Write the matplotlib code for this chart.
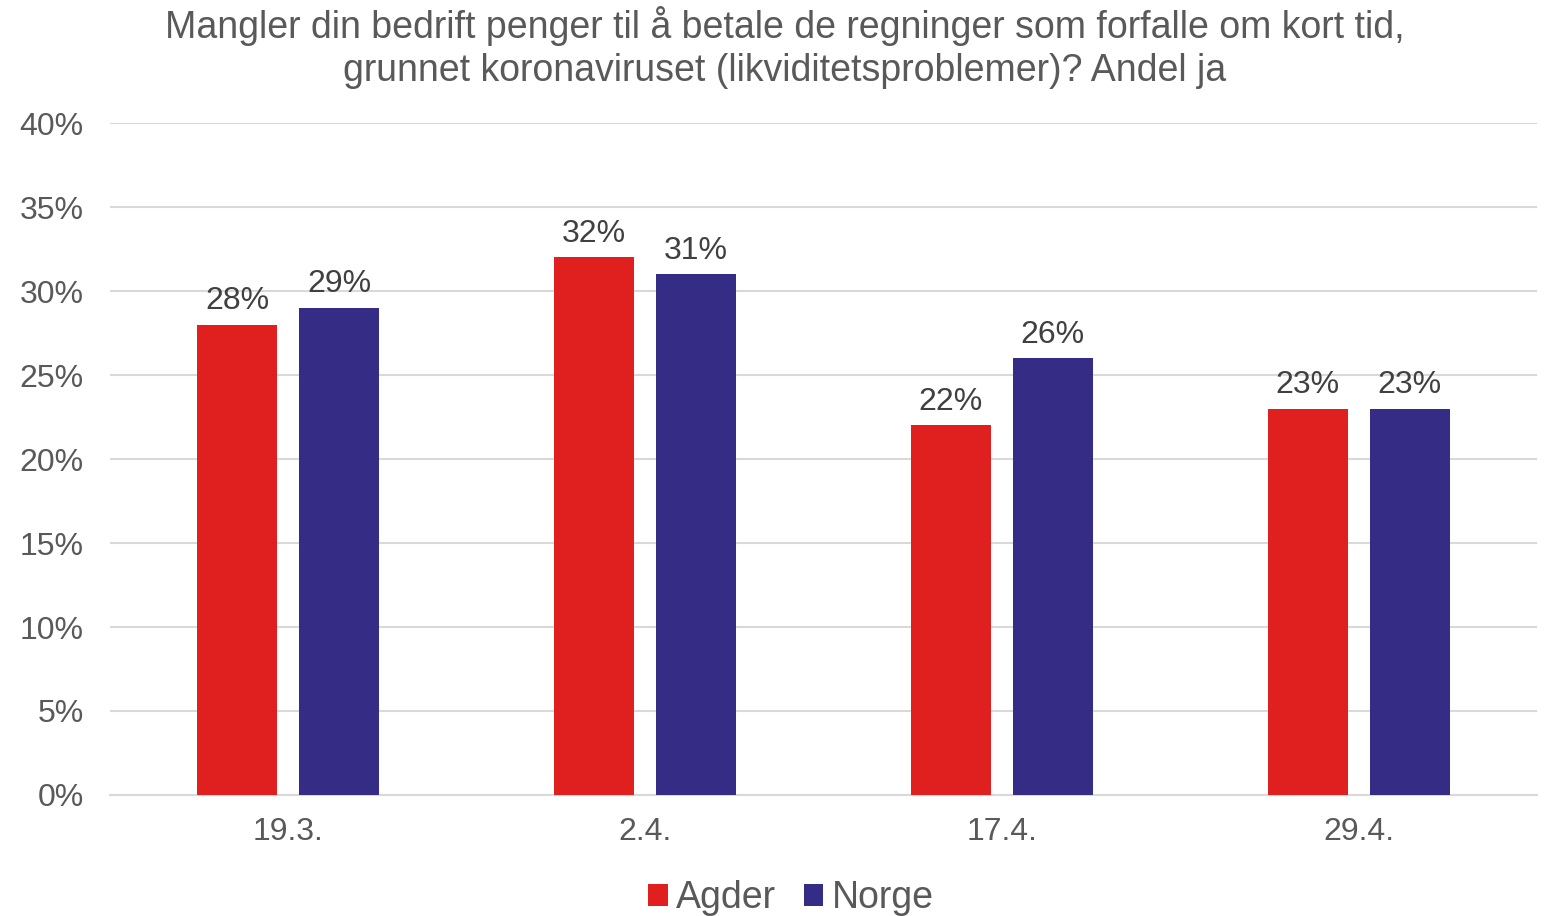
import matplotlib
matplotlib.use("Agg")
import matplotlib.pyplot as plt
import numpy as np

plt.rcParams['font.family'] = ['Liberation Sans', 'DejaVu Sans']

categories = ["19.3.", "2.4.", "17.4.", "29.4."]
series_names = ["Agder", "Norge"]
agder = [28, 32, 22, 23]
norge = [29, 31, 26, 23]
yticks = [0, 5, 10, 15, 20, 25, 30, 35, 40]
title = ("Mangler din bedrift penger til å betale de regninger som forfalle om kort tid,\n"
         "grunnet koronaviruset (likviditetsproblemer)? Andel ja")

colors = ["#E01F1F", "#352C85"]

fig = plt.figure(figsize=(15.44, 9.16), dpi=100)
ax = fig.add_axes([0.0712, 0.1321, 0.9243, 0.7336])

x = np.arange(len(categories))
w = 0.224
off = 0.143
for vals, o, c, name in [(agder, -off, colors[0], series_names[0]),
                         (norge, off, colors[1], series_names[1])]:
    bars = ax.bar(x + o, vals, width=w, color=c, label=name, zorder=3)
    for b, v in zip(bars, vals):
        ax.annotate(f"{v}%", (b.get_x() + b.get_width() / 2, v),
                    xytext=(0, 6), textcoords="offset points",
                    ha="center", va="bottom", fontsize=23, color="#404040")

ax.set_xlim(-0.5, len(categories) - 0.5)
ax.set_ylim(0, 40)
ax.set_yticks(yticks)
ax.set_yticklabels([f"{t}%" for t in yticks], fontsize=23, color="#595959")
ax.set_xticks(x)
ax.set_xticklabels(categories, fontsize=23, color="#595959")
ax.tick_params(axis="both", length=0)
ax.tick_params(axis="y", pad=19)
ax.tick_params(axis="x", pad=16)
ax.grid(axis="y", color="#D9D9D9", linewidth=1.5, zorder=0)
for s in ["top", "right", "left"]:
    ax.spines[s].set_visible(False)
ax.spines["bottom"].set_color("#D9D9D9")
ax.spines["bottom"].set_linewidth(1.5)

fig.text(0.508, 0.993, title, ha="center", va="top", fontsize=27,
         color="#595959", linespacing=1.25)

leg = fig.legend(loc="lower center", bbox_to_anchor=(0.5122, -0.037), ncol=2,
                 frameon=False, fontsize=27, handlelength=0.52, handleheight=0.52,
                 handletextpad=0.22, columnspacing=0.75)
for t in leg.get_texts():
    t.set_color("#595959")

fig.savefig("out.png", dpi=100)
